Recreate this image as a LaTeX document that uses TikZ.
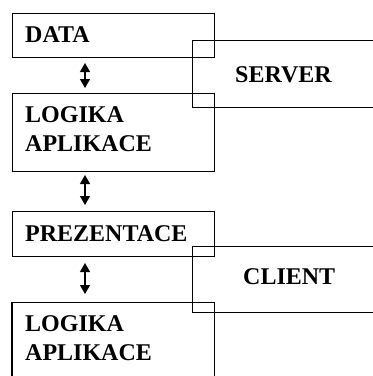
\documentclass[tikz,border=0pt]{standalone}
\usepackage{fontspec}
\setmainfont{Liberation Serif}
\usetikzlibrary{arrows.meta}
\tikzset{
  boxline/.style={draw=black, line width=1pt},
  lbl/.style={inner sep=0pt, anchor=base west, font=\fontsize{24}{29}\selectfont\bfseries},
  dblarrow/.style={line width=1.2pt, {Triangle[width=10pt,length=9pt]}-{Triangle[width=10pt,length=9pt]}},
  boxnode/.style={draw=black, line width=1pt, inner sep=0pt, anchor=north west}
}
\begin{document}
\begin{tikzpicture}[x=1pt,y=-1pt]
\useasboundingbox (0,0) rectangle (373,376);
% boxes
\node[boxnode, minimum width=202pt, minimum height=44pt] (data) at (12,13) {};
\node[boxnode, minimum width=202pt, minimum height=78pt] (logika) at (12,93) {};
\node[boxnode, minimum width=202pt, minimum height=45pt] (prez) at (12,211) {};
\coordinate (l2a) at (12,376);
\coordinate (l2b) at (12,302);
\coordinate (l2c) at (214,302);
\coordinate (l2d) at (214,376);
\draw[boxline] (l2a) -- (l2b) -- (l2c) -- (l2d);
% server / client brackets
\coordinate (s1) at (373,40);
\coordinate (s2) at (192,40);
\coordinate (s3) at (192,107);
\coordinate (s4) at (373,107);
\draw[boxline] (s1) -- (s2) -- (s3) -- (s4);
\coordinate (c1) at (373,246);
\coordinate (c2) at (192,246);
\coordinate (c3) at (192,312);
\coordinate (c4) at (373,312);
\draw[boxline] (c1) -- (c2) -- (c3) -- (c4);
% labels
\node[lbl] (tdata) at (25,42.5) {DATA};
\node[lbl] (tlog1) at (25,122) {LOGIKA};
\node[lbl] (tapl1) at (25,151) {APLIKACE};
\node[lbl] (tprez) at (25,241) {PREZENTACE};
\node[lbl] (tlog2) at (25,331) {LOGIKA};
\node[lbl] (tapl2) at (25,360) {APLIKACE};
\node[lbl] (tserv) at (235,82) {SERVER};
\node[lbl] (tcli) at (243,284) {CLIENT};
% arrows
\draw[dblarrow] ([xshift=73pt,yshift=-5pt]data.south west) -- ([xshift=73pt,yshift=5pt]logika.north west);
\draw[dblarrow] ([xshift=73pt,yshift=-3pt]logika.south west) -- ([xshift=73pt,yshift=6pt]prez.north west);
\draw[dblarrow] ([xshift=73pt,yshift=-6pt]prez.south west) -- ([xshift=73pt,yshift=8pt]l2b);
\end{tikzpicture}
\end{document}
